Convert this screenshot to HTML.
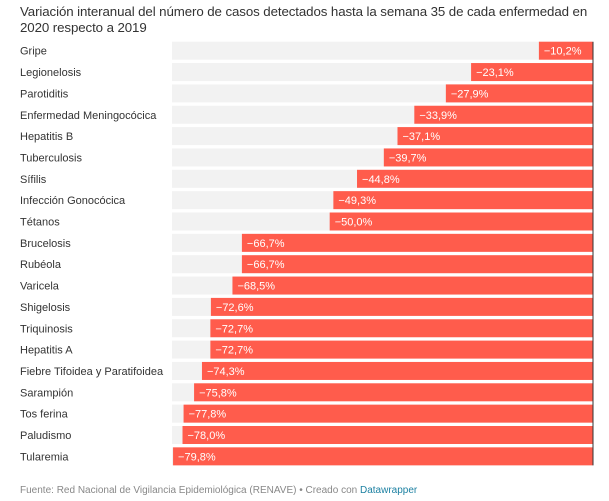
<!DOCTYPE html>
<html><head><meta charset="utf-8"><style>
body{margin:0;background:#fff;font-family:"Liberation Sans",sans-serif;}
#wrap{position:relative;width:609px;height:501px;overflow:hidden}
.title{position:absolute;left:20px;top:4px;font-size:13.3px;line-height:16px;color:#333;white-space:nowrap;letter-spacing:-0.1px}
.foot{position:absolute;left:20px;top:485px;font-size:10px;color:#888}
.foot span{color:#1d81a2}
</style></head><body>
<div id="wrap">
<div class="title">Variación interanual del número de casos detectados hasta la semana 35 de cada enfermedad en<br>2020 respecto a 2019</div>
<svg id="svg" width="609" height="501" style="position:absolute;left:0;top:0"></svg>
<div class="foot">Fuente: Red Nacional de Vigilancia Epidemiológica (RENAVE) • Creado con <span>Datawrapper</span></div>
</div>
<script>
const categories=["Gripe","Legionelosis","Parotiditis","Enfermedad Meningocócica","Hepatitis B","Tuberculosis","Sífilis","Infección Gonocócica","Tétanos","Brucelosis","Rubéola","Varicela","Shigelosis","Triquinosis","Hepatitis A","Fiebre Tifoidea y Paratifoidea","Sarampión","Tos ferina","Paludismo","Tularemia"];
const values=[-10.2,-23.1,-27.9,-33.9,-37.1,-39.7,-44.8,-49.3,-50.0,-66.7,-66.7,-68.5,-72.6,-72.7,-72.7,-74.3,-75.8,-77.8,-78.0,-79.8];
const domainMin=-80, domainMax=0;
const svg=document.getElementById('svg');
const NS='http://www.w3.org/2000/svg';
const X0=172,X1=592.5,TOP=41.7,PITCH=21.35,BH=18;
function x(v){return X0+(v-domainMin)/(domainMax-domainMin)*(X1-X0);}
function y(i){return TOP+i*PITCH;}
function fmt(v){return '\u2212'+Math.abs(v).toFixed(1).replace('.',',')+'%';}
categories.forEach((c,i)=>{
  const t=document.createElementNS(NS,'text');
  
  
  t.setAttribute('x',20);t.setAttribute('y',y(i)+BH/2+4);
  t.setAttribute('font-size','11');t.setAttribute('fill','#333');
  t.textContent=c;svg.appendChild(t);
  const bg=document.createElementNS(NS,'rect');
  
  
  bg.setAttribute('x',X0);bg.setAttribute('y',y(i));bg.setAttribute('width',X1-X0);bg.setAttribute('height',BH);bg.setAttribute('fill','#f2f2f2');
  svg.appendChild(bg);
  const v=values[i];
  const b=document.createElementNS(NS,'rect');
  
  
  b.setAttribute('x',x(v));b.setAttribute('y',y(i));b.setAttribute('width',x(0)-x(v));b.setAttribute('height',BH);b.setAttribute('fill','#ff5c4c');
  svg.appendChild(b);
  const l=document.createElementNS(NS,'text');
  
  
  l.setAttribute('x',x(v)+5);l.setAttribute('y',y(i)+BH/2+4);
  l.setAttribute('font-size','11');l.setAttribute('fill','#fff');
  l.textContent=fmt(v);svg.appendChild(l);
});
const z=document.createElementNS(NS,'line');


z.setAttribute('x1',x(0)+0.5);z.setAttribute('x2',x(0)+0.5);z.setAttribute('y1',TOP);z.setAttribute('y2',y(categories.length-1)+BH);
z.setAttribute('stroke','#333');z.setAttribute('stroke-width','1');
svg.appendChild(z);
</script>
</body></html>
